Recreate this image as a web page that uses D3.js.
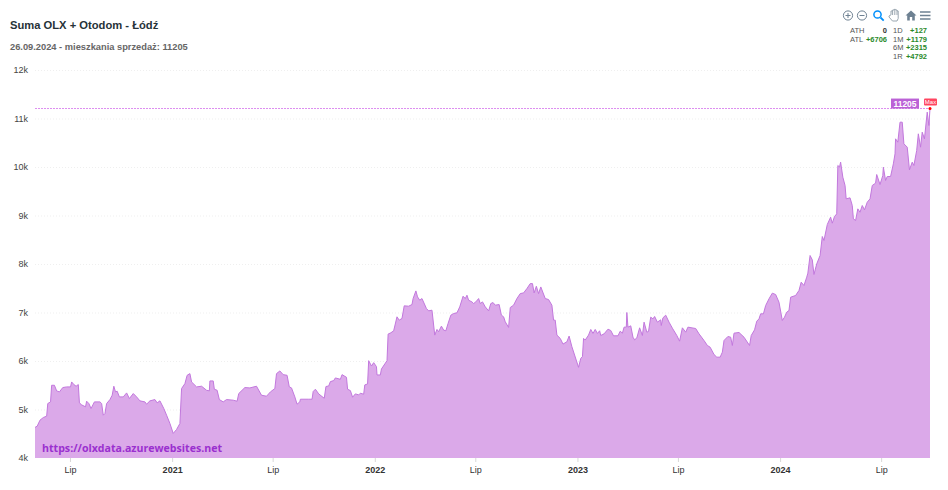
<!DOCTYPE html>
<html>
<head>
<meta charset="utf-8">
<script src="https://cdn.jsdelivr.net/npm/d3@7"></script>
<style>
	html, body { margin: 0; padding: 0; background: #fff; }
	text { font-family: "Liberation Sans", Arial, sans-serif; }
</style>
</head>
<body>
<div id="chart"></div>
<script>
// Listings per period: days since the first sample, number of flats for sale
const firstDay = new Date(2020, 3, 29);

const days2020 = [0,4,9,15,21,23,28,30,35,39,44,50,57,64,66,70,74,78,80,84,91,93,97,101,107,117,120,123,126,129,135,139,142,145,148,152,159,165,170,177,183,189,198,201,207,216,220,225,232,237,243,249,255,261];
const vals2020 = [4630,4658,4780,4835,4863,5123,5157,5500,5500,5384,5363,5452,5466,5466,5568,5514,5480,5514,5137,5096,5055,5171,5123,5020,5157,5157,5123,4883,4918,5123,5205,5294,5480,5363,5377,5260,5260,5342,5226,5329,5260,5178,5157,5110,5178,5205,5137,5178,5020,4883,4712,4507,4589,4712];

const days2021 = [264,270,274,279,282,291,300,309,314,315,321,323,328,332,339,345,357,364,367,378,387,399,408,417,424,432,435,441,447,454,458,462,468,472,477,478,493,499,501,505,511,517,521,524,529,532,538,541,550,553,561,563,568,572,577,583,586,592,594,599];
const vals2021 = [5432,5534,5705,5740,5568,5466,5480,5397,5384,5589,5589,5418,5397,5205,5157,5205,5192,5171,5329,5452,5445,5480,5294,5274,5363,5432,5740,5795,5719,5705,5466,5445,5260,5110,5157,5212,5212,5212,5370,5418,5322,5267,5233,5473,5486,5575,5596,5651,5623,5719,5664,5418,5390,5253,5322,5301,5336,5315,5507,5527];

const days2022 = [601,606,610,615,616,622,624,634,636,641,646,652,656,661,665,673,679,681,686,689,693,697,705,709,715,720,724,727,732,736,740,744,749,754,760,765,771,775,778,781,787,790,794,799,802,806,811,817,821,825,829,836,840,844,847,853,856,862,868,874,880,886,892,896,899,903,907,911,919,925,931,934,937,940,946,951,958,962,967,979,983,986,988,991,997];
const vals2022 = [6007,5897,5966,5884,5712,5712,5836,6007,6555,6582,6623,6911,6842,6877,7137,7130,7164,7288,7445,7322,7253,7288,7082,7034,7048,6534,6651,6603,6719,6637,6623,6774,6945,6979,6993,7116,7336,7288,7356,7253,7219,7185,7219,7288,7185,7219,7116,7034,7185,7205,7151,7164,6945,6911,6808,6692,7103,7151,7288,7390,7404,7493,7596,7596,7404,7541,7390,7527,7288,7267,7151,6842,6842,6534,6466,6349,6397,6514,6295,5870,6055,6089,6466,6432,6534];

const days2023 = [1001,1005,1009,1013,1017,1019,1025,1032,1037,1042,1050,1054,1058,1061,1065,1066,1068,1073,1077,1080,1084,1089,1094,1097,1102,1105,1109,1113,1116,1121,1127,1128,1131,1136,1142,1148,1156,1161,1166,1172,1176,1190,1196,1205,1211,1216,1223,1228,1234,1238,1241,1248,1253,1256,1259,1268,1277,1287,1290,1296,1300,1304,1307,1312,1316,1322,1328,1334,1340,1346,1350,1354,1358,1361];
const vals2023 = [6651,6568,6651,6568,6623,6526,6560,6656,6629,6519,6519,6615,6574,6698,6698,7000,6698,6725,6491,6436,6478,6684,6526,6801,6595,6608,6904,6869,6918,6801,6849,6732,6890,6945,6801,6677,6526,6409,6684,6595,6698,6670,6560,6423,6320,6285,6134,6079,6079,6182,6423,6505,6491,6320,6574,6588,6491,6320,6526,6643,6821,6869,6973,6973,7144,7282,7399,7371,7213,6835,6904,7007,7041,7316];

const days2024 = [1370,1376,1380,1385,1390,1392,1396,1400,1403,1408,1414,1418,1421,1427,1433,1436,1440,1444,1446,1449,1451,1455,1459,1461,1468,1472,1474,1478,1482,1486,1490,1494,1499,1504,1508,1514,1516,1522,1527,1528,1532,1535,1541,1546,1549,1550,1554,1558,1562,1565,1571,1575,1580,1583,1588,1591,1595,1598,1602,1607,1610,1612];
const vals2024 = [7351,7454,7625,7557,7729,7811,8175,8086,7784,8003,8175,8567,8485,8814,8966,8842,8979,9034,10031,9997,10100,9790,9619,9344,9364,9206,8931,8897,9137,9068,9206,9117,9275,9344,9619,9667,9845,9639,9825,9997,9722,9804,9804,10065,10271,10581,10512,10924,10924,10478,10409,9942,10100,10031,10340,10684,10409,10718,10581,11131,10856,11205];

const yTicks = [4000,5000,6000,7000,8000,9000,10000,11000,12000];
const xTickDates = ['2020-07-01','2021-01-01','2021-07-01','2022-01-01','2022-07-01','2023-01-01','2023-07-01','2024-01-01','2024-07-01'];
const xTickLabels = ['Lip','2021','Lip','2022','Lip','2023','Lip','2024','Lip'];
const maxValue = 11205;

const statsLeftNames = ['ATH','ATL'];
const statsLeftValues = ['0','+6706'];
const statsRightNames = ['1D','1M','6M','1R'];
const statsRightValues = ['+127','+1179','+2315','+4792'];

const W = 948, H = 490;
const margin = {top: 70, right: 18, bottom: 32, left: 35};
const purple = '#bb62d6';

const days = [].concat(days2020, days2021, days2022, days2023, days2024);
const vals = [].concat(vals2020, vals2021, vals2022, vals2023, vals2024);
const data = days.map((d, i) => ({date: d3.timeDay.offset(firstDay, d), v: vals[i]}));

const svg = d3.select('#chart').append('svg')
	.attr('width', W)
	.attr('height', H)
	.style('display', 'block');

const x = d3.scaleTime()
	.domain(d3.extent(data, d => d.date))
	.range([margin.left, W - margin.right]);

const y = d3.scaleLinear()
	.domain([4000, 12000])
	.range([H - margin.bottom, margin.top]);

// grid
svg.append('g')
	.selectAll('line')
	.data(yTicks.slice(1))
	.enter()
	.append('line')
	.attr('x1', margin.left)
	.attr('x2', W - margin.right)
	.attr('y1', d => y(d) + 0.5)
	.attr('y2', d => y(d) + 0.5)
	.attr('stroke', '#efefef')
	.attr('stroke-dasharray', '1,2');

// area + line
svg.append('path')
	.datum(data)
	.attr('fill', '#dba9e9')
	.attr('d', d3.area().x(d => x(d.date)).y0(y(4000)).y1(d => y(d.v)));

svg.append('path')
	.datum(data)
	.attr('fill', 'none')
	.attr('stroke', '#c278dd')
	.attr('stroke-width', 1)
	.attr('d', d3.line().x(d => x(d.date)).y(d => y(d.v)));

// axes
const yAxis = svg.append('g')
	.attr('transform', `translate(${margin.left},0)`)
	.call(d3.axisLeft(y).tickValues(yTicks).tickFormat(d => (d / 1000) + 'k').tickSize(0).tickPadding(7));
yAxis.select('.domain').remove();
yAxis.selectAll('text')
	.attr('fill', '#444')
	.style('font-size', '9px');

const tickDates = xTickDates.map(d => d3.isoParse(d + 'T00:00:00'));
const xAxis = svg.append('g')
	.attr('transform', `translate(0,${y(4000)})`)
	.call(d3.axisBottom(x).tickValues(tickDates).tickFormat((d, i) => xTickLabels[i]).tickSize(4).tickPadding(5));
xAxis.select('.domain').remove();
xAxis.selectAll('line').attr('stroke', '#d8d8d8');
xAxis.selectAll('text')
	.attr('fill', '#333')
	.style('font-size', '9px')
	.style('font-weight', (d, i) => xTickLabels[i] === 'Lip' ? 'normal' : 'bold');

// title
svg.append('text')
	.attr('x', 10)
	.attr('y', 29)
	.attr('fill', '#263238')
	.style('font-size', '11.2px')
	.style('font-weight', 'bold')
	.text('Suma OLX + Otodom - Łódź');

svg.append('text')
	.attr('x', 10)
	.attr('y', 50)
	.attr('fill', '#666')
	.style('font-size', '9.3px')
	.style('font-weight', 'bold')
	.text('26.09.2024 - mieszkania sprzedaż: 11205');

svg.append('text')
	.attr('x', 42)
	.attr('y', 452)
	.attr('fill', '#9a30cf')
	.style('font-family', '"Open Sans", sans-serif')
	.style('font-size', '10.6px')
	.style('font-weight', 'bold')
	.text('https://olxdata.azurewebsites.net');

// max line and labels
const maxX = x(data[data.length - 1].date), maxY = y(maxValue);

svg.append('line')
	.attr('x1', margin.left)
	.attr('x2', W - margin.right)
	.attr('y1', Math.floor(maxY) + 0.5)
	.attr('y2', Math.floor(maxY) + 0.5)
	.attr('stroke', '#dd8ff0')
	.attr('stroke-dasharray', '2,1');

svg.append('rect')
	.attr('x', maxX - 39)
	.attr('y', maxY - 10)
	.attr('width', 28)
	.attr('height', 10)
	.attr('fill', purple);
svg.append('text')
	.attr('x', maxX - 25)
	.attr('y', maxY - 2)
	.attr('text-anchor', 'middle')
	.attr('fill', '#fff')
	.style('font-size', '8.5px')
	.style('font-weight', 'bold')
	.text(maxValue);

svg.append('rect')
	.attr('x', maxX - 6)
	.attr('y', maxY - 10)
	.attr('width', 13)
	.attr('height', 7)
	.attr('rx', 1)
	.attr('fill', '#ff4560');
svg.append('text')
	.attr('x', maxX + 0.5)
	.attr('y', maxY - 4.5)
	.attr('text-anchor', 'middle')
	.attr('fill', '#fff')
	.style('font-size', '6px')
	.text('Max');
svg.append('circle')
	.attr('cx', maxX)
	.attr('cy', maxY)
	.attr('r', 1.5)
	.attr('fill', '#f00');

// toolbar icons
const tools = svg.append('g').attr('fill', 'none');
const gray = '#6e8192';
function circleIcon(cx, minus) {
	tools.append('circle').attr('cx', cx).attr('cy', 15.5).attr('r', 4.6).attr('stroke', gray);
	tools.append('path').attr('d', `M${cx - 2.5},15.5h5` + (minus ? '' : `M${cx},13v5`)).attr('stroke', gray);
}
circleIcon(848, false);
circleIcon(862, true);
tools.append('circle').attr('cx', 877.5).attr('cy', 14.5).attr('r', 3.6).attr('stroke', '#008ffb').attr('stroke-width', 1.5);
tools.append('path').attr('d', 'M880.5,17.5l3.2,3.2').attr('stroke', '#008ffb').attr('stroke-width', 1.8);
tools.append('path')
	.attr('d', 'M889,16l2,-1.2v-3.8h1.6v-1h1.4v-0.6h1.6v0.6h1.4v1h1.2v7.5l-1.2,2.5h-4.5l-3.5,-4z')
	.attr('fill', '#fff')
	.attr('stroke', '#9aa6b0');
tools.append('path').attr('d', 'M892.6,11v4M894.8,9.6v5.4M897,10.6v4.4').attr('stroke', '#9aa6b0');
tools.append('path').attr('d', 'M905.5,15.5l5.5,-5 5.5,5h-1.7v5h-2.6v-3.4h-2.4v3.4h-2.6v-5z').attr('fill', gray);
tools.append('path').attr('d', 'M920,12h10.5M920,15.5h10.5M920,19h10.5').attr('stroke', gray).attr('stroke-width', 1.6);

// change table
const statsY = [33, 41.5, 50, 59];
function statCell(px, py, txt, anchor, fill, bold) {
	svg.append('text')
		.attr('x', px)
		.attr('y', py)
		.attr('text-anchor', anchor)
		.attr('fill', fill)
		.style('font-size', '7.5px')
		.style('font-weight', bold ? 'bold' : 'normal')
		.text(txt);
}
statsLeftNames.forEach((n, i) => {
	statCell(850, statsY[i], n, 'start', '#555', false);
	statCell(887, statsY[i], statsLeftValues[i], 'end', statsLeftValues[i] === '0' ? '#333' : '#2a8a2a', true);
});
statsRightNames.forEach((n, i) => {
	statCell(893, statsY[i], n, 'start', '#555', false);
	statCell(927, statsY[i], statsRightValues[i], 'end', '#2a8a2a', true);
});
</script>
</body>
</html>
